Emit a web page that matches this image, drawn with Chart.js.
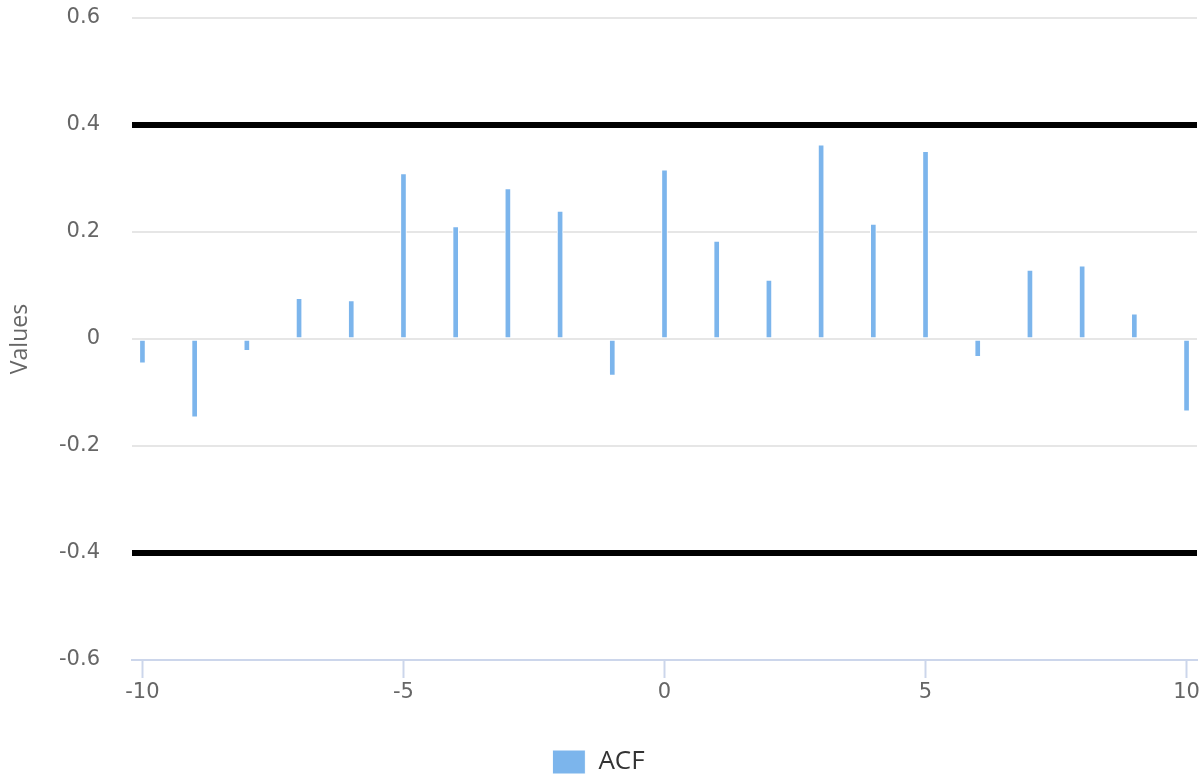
<!DOCTYPE html>
<html>
<head>
<meta charset="utf-8">
<title>ACF</title>
<script src="https://cdn.jsdelivr.net/npm/chart.js@4"></script>
<style>
  html, body { margin: 0; padding: 0; background: #fff; }
  #wrap { width: 1204px; height: 778px; }
</style>
</head>
<body>
<div id="wrap"><canvas id="acf-chart"></canvas></div>
<script>
// ラグ（-10〜10）
const lags = [-10, -9, -8, -7, -6, -5, -4, -3, -2, -1, 0, 1, 2, 3, 4, 5, 6, 7, 8, 9, 10];
// ACFの値
const acfValues = [-0.045, -0.146, -0.022, 0.076, 0.072, 0.309, 0.210, 0.281, 0.239, -0.068,
                   0.316, 0.183, 0.110, 0.363, 0.215, 0.351, -0.033, 0.129, 0.137, 0.047, -0.135];
// 信頼区間の線
const upperLimit = 0.4;
const lowerLimit = -0.4;
// 目盛り
const xTicks = [-10, -5, 0, 5, 10];
const yTicks = [-0.6, -0.4, -0.2, 0, 0.2, 0.4, 0.6];
const xRange = [-10.2, 10.2];

const barData = lags.map((lag, i) => ({ x: lag, y: acfValues[i] }));
const limitLine = v => xRange.map(x => ({ x: x, y: v }));

const ctx = document.getElementById('acf-chart').getContext('2d');
new Chart(ctx, {
    type: 'bar',
    data: {
        datasets: [
            {
                label: 'ACF',
                data: barData,
                backgroundColor: '#7cb5ec',
                borderColor: '#ffffff',
                borderWidth: 1,
                borderSkipped: false,
                barThickness: 6,
                order: 2
            },
            {
                type: 'line',
                label: 'upper',
                data: limitLine(upperLimit),
                borderColor: '#000000',
                borderWidth: 6,
                pointRadius: 0,
                fill: false,
                order: 1
            },
            {
                type: 'line',
                label: 'lower',
                data: limitLine(lowerLimit),
                borderColor: '#000000',
                borderWidth: 6,
                pointRadius: 0,
                fill: false,
                order: 1
            }
        ]
    },
    options: {
        responsive: true,
        maintainAspectRatio: false,
        animation: false,
        layout: { padding: { top: 18, right: 7, left: 0, bottom: -7 } },
        scales: {
            x: {
                type: 'linear',
                min: xRange[0],
                max: xRange[1],
                offset: false,
                afterBuildTicks: axis => { axis.ticks = xTicks.map(v => ({ value: v })); },
                afterFit: axis => { axis.height = 84; },
                grid: {
                    display: true,
                    drawOnChartArea: false,
                    drawTicks: true,
                    tickLength: 18,
                    tickColor: '#ccd6eb',
                    tickWidth: 2,
                    offset: false
                },
                border: { display: true, color: '#ccd6eb', width: 2 },
                ticks: {
                    padding: 2,
                    color: '#666666',
                    font: { family: 'DejaVu Sans', size: 21 },
                    maxRotation: 0
                }
            },
            y: {
                min: yTicks[0],
                max: yTicks[yTicks.length - 1],
                afterBuildTicks: axis => { axis.ticks = yTicks.map(v => ({ value: v })); },
                afterFit: axis => { axis.width = 132; },
                grid: {
                    drawTicks: true,
                    tickLength: 29,
                    tickColor: 'rgba(0,0,0,0)',
                    lineWidth: 2,
                    color: c => (c.tick && c.tick.value === yTicks[0]) ? 'rgba(0,0,0,0)' : '#e6e6e6'
                },
                border: { display: false },
                ticks: {
                    padding: 3,
                    color: '#666666',
                    font: { family: 'DejaVu Sans', size: 21 }
                },
                title: {
                    display: true,
                    text: 'Values',
                    color: '#666666',
                    font: { family: 'Open Sans', size: 23 },
                    padding: { top: 7, bottom: 0 }
                }
            }
        },
        plugins: {
            legend: {
                position: 'bottom',
                labels: {
                    filter: item => item.text === 'ACF',
                    boxWidth: 33,
                    boxHeight: 24,
                    padding: 5,
                    color: '#333333',
                    font: { family: 'Open Sans', size: 26, lineHeight: 1 }
                }
            },
            tooltip: { enabled: false }
        }
    }
});
</script>
</body>
</html>
